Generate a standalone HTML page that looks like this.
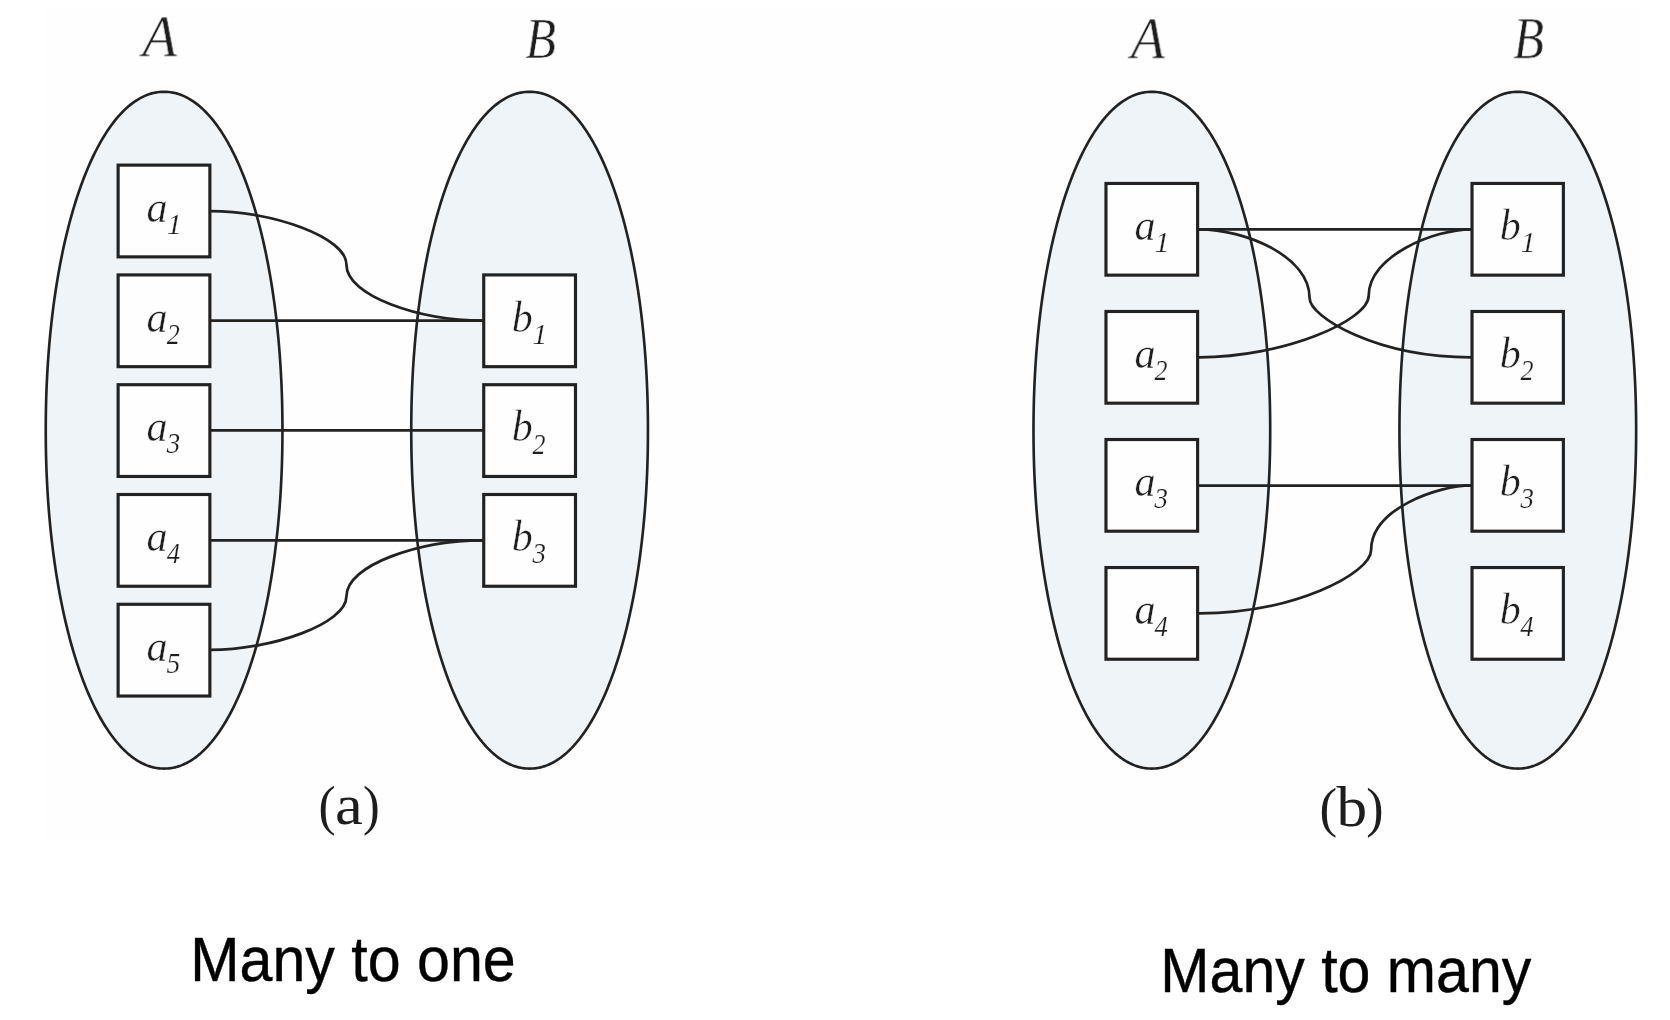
<!DOCTYPE html>
<html><head><meta charset="utf-8"><style>
html,body{margin:0;padding:0;background:#ffffff;width:1670px;height:1020px;overflow:hidden}
svg{position:absolute;left:0;top:0;display:block;will-change:transform}

</style></head><body>
<svg width="1670" height="1020" viewBox="0 0 1670 1020">
<defs><path id="se" d="M118.35 0.00 L118.33 6.46 L118.28 12.71 L118.19 18.90 L118.07 25.03 L117.91 31.12 L117.72 37.17 L117.49 43.20 L117.22 49.18 L116.92 55.14 L116.59 61.07 L116.22 66.97 L115.82 72.83 L115.38 78.66 L114.91 84.46 L114.40 90.23 L113.86 95.96 L113.29 101.65 L112.68 107.31 L112.04 112.93 L111.36 118.50 L110.66 124.04 L109.91 129.54 L109.14 134.99 L108.33 140.39 L107.49 145.75 L106.62 151.06 L105.72 156.32 L104.78 161.53 L103.82 166.69 L102.82 171.80 L101.79 176.85 L100.73 181.85 L99.64 186.79 L98.52 191.67 L97.37 196.49 L96.19 201.25 L94.99 205.94 L93.75 210.58 L92.49 215.14 L91.19 219.64 L89.87 224.08 L88.53 228.44 L87.15 232.74 L85.75 236.96 L84.33 241.12 L82.87 245.20 L81.40 249.20 L79.89 253.13 L78.37 256.98 L76.82 260.75 L75.24 264.45 L73.65 268.06 L72.03 271.60 L70.38 275.05 L68.72 278.42 L67.03 281.71 L65.33 284.91 L63.60 288.02 L61.85 291.05 L60.08 293.99 L58.30 296.85 L56.49 299.61 L54.67 302.28 L52.83 304.87 L50.97 307.36 L49.10 309.76 L47.21 312.07 L45.30 314.28 L43.38 316.40 L41.45 318.43 L39.49 320.36 L37.53 322.19 L35.55 323.93 L33.56 325.57 L31.56 327.12 L29.54 328.57 L27.51 329.92 L25.47 331.17 L23.42 332.32 L21.36 333.37 L19.29 334.32 L17.20 335.18 L15.11 335.93 L13.00 336.59 L10.88 337.14 L8.75 337.59 L6.61 337.95 L4.45 338.20 L2.26 338.35 L0.00 338.40 L-2.26 338.35 L-4.45 338.20 L-6.61 337.95 L-8.75 337.59 L-10.88 337.14 L-13.00 336.59 L-15.11 335.93 L-17.20 335.18 L-19.29 334.32 L-21.36 333.37 L-23.42 332.32 L-25.47 331.17 L-27.51 329.92 L-29.54 328.57 L-31.56 327.12 L-33.56 325.57 L-35.55 323.93 L-37.53 322.19 L-39.49 320.36 L-41.45 318.43 L-43.38 316.40 L-45.30 314.28 L-47.21 312.07 L-49.10 309.76 L-50.97 307.36 L-52.83 304.87 L-54.67 302.28 L-56.49 299.61 L-58.30 296.85 L-60.08 293.99 L-61.85 291.05 L-63.60 288.02 L-65.33 284.91 L-67.03 281.71 L-68.72 278.42 L-70.38 275.05 L-72.03 271.60 L-73.65 268.06 L-75.24 264.45 L-76.82 260.75 L-78.37 256.98 L-79.89 253.13 L-81.40 249.20 L-82.87 245.20 L-84.33 241.12 L-85.75 236.96 L-87.15 232.74 L-88.53 228.44 L-89.87 224.08 L-91.19 219.64 L-92.49 215.14 L-93.75 210.58 L-94.99 205.94 L-96.19 201.25 L-97.37 196.49 L-98.52 191.67 L-99.64 186.79 L-100.73 181.85 L-101.79 176.85 L-102.82 171.80 L-103.82 166.69 L-104.78 161.53 L-105.72 156.32 L-106.62 151.06 L-107.49 145.75 L-108.33 140.39 L-109.14 134.99 L-109.91 129.54 L-110.66 124.04 L-111.36 118.50 L-112.04 112.93 L-112.68 107.31 L-113.29 101.65 L-113.86 95.96 L-114.40 90.23 L-114.91 84.46 L-115.38 78.66 L-115.82 72.83 L-116.22 66.97 L-116.59 61.07 L-116.92 55.14 L-117.22 49.18 L-117.49 43.20 L-117.72 37.17 L-117.91 31.12 L-118.07 25.03 L-118.19 18.90 L-118.28 12.71 L-118.33 6.46 L-118.35 0.00 L-118.33 -6.46 L-118.28 -12.71 L-118.19 -18.90 L-118.07 -25.03 L-117.91 -31.12 L-117.72 -37.17 L-117.49 -43.20 L-117.22 -49.18 L-116.92 -55.14 L-116.59 -61.07 L-116.22 -66.97 L-115.82 -72.83 L-115.38 -78.66 L-114.91 -84.46 L-114.40 -90.23 L-113.86 -95.96 L-113.29 -101.65 L-112.68 -107.31 L-112.04 -112.93 L-111.36 -118.50 L-110.66 -124.04 L-109.91 -129.54 L-109.14 -134.99 L-108.33 -140.39 L-107.49 -145.75 L-106.62 -151.06 L-105.72 -156.32 L-104.78 -161.53 L-103.82 -166.69 L-102.82 -171.80 L-101.79 -176.85 L-100.73 -181.85 L-99.64 -186.79 L-98.52 -191.67 L-97.37 -196.49 L-96.19 -201.25 L-94.99 -205.94 L-93.75 -210.58 L-92.49 -215.14 L-91.19 -219.64 L-89.87 -224.08 L-88.53 -228.44 L-87.15 -232.74 L-85.75 -236.96 L-84.33 -241.12 L-82.87 -245.20 L-81.40 -249.20 L-79.89 -253.13 L-78.37 -256.98 L-76.82 -260.75 L-75.24 -264.45 L-73.65 -268.06 L-72.03 -271.60 L-70.38 -275.05 L-68.72 -278.42 L-67.03 -281.71 L-65.33 -284.91 L-63.60 -288.02 L-61.85 -291.05 L-60.08 -293.99 L-58.30 -296.85 L-56.49 -299.61 L-54.67 -302.28 L-52.83 -304.87 L-50.97 -307.36 L-49.10 -309.76 L-47.21 -312.07 L-45.30 -314.28 L-43.38 -316.40 L-41.45 -318.43 L-39.49 -320.36 L-37.53 -322.19 L-35.55 -323.93 L-33.56 -325.57 L-31.56 -327.12 L-29.54 -328.57 L-27.51 -329.92 L-25.47 -331.17 L-23.42 -332.32 L-21.36 -333.37 L-19.29 -334.32 L-17.20 -335.18 L-15.11 -335.93 L-13.00 -336.59 L-10.88 -337.14 L-8.75 -337.59 L-6.61 -337.95 L-4.45 -338.20 L-2.26 -338.35 L-0.00 -338.40 L2.26 -338.35 L4.45 -338.20 L6.61 -337.95 L8.75 -337.59 L10.88 -337.14 L13.00 -336.59 L15.11 -335.93 L17.20 -335.18 L19.29 -334.32 L21.36 -333.37 L23.42 -332.32 L25.47 -331.17 L27.51 -329.92 L29.54 -328.57 L31.56 -327.12 L33.56 -325.57 L35.55 -323.93 L37.53 -322.19 L39.49 -320.36 L41.45 -318.43 L43.38 -316.40 L45.30 -314.28 L47.21 -312.07 L49.10 -309.76 L50.97 -307.36 L52.83 -304.87 L54.67 -302.28 L56.49 -299.61 L58.30 -296.85 L60.08 -293.99 L61.85 -291.05 L63.60 -288.02 L65.33 -284.91 L67.03 -281.71 L68.72 -278.42 L70.38 -275.05 L72.03 -271.60 L73.65 -268.06 L75.24 -264.45 L76.82 -260.75 L78.37 -256.98 L79.89 -253.13 L81.40 -249.20 L82.87 -245.20 L84.33 -241.12 L85.75 -236.96 L87.15 -232.74 L88.53 -228.44 L89.87 -224.08 L91.19 -219.64 L92.49 -215.14 L93.75 -210.58 L94.99 -205.94 L96.19 -201.25 L97.37 -196.49 L98.52 -191.67 L99.64 -186.79 L100.73 -181.85 L101.79 -176.85 L102.82 -171.80 L103.82 -166.69 L104.78 -161.53 L105.72 -156.32 L106.62 -151.06 L107.49 -145.75 L108.33 -140.39 L109.14 -134.99 L109.91 -129.54 L110.66 -124.04 L111.36 -118.50 L112.04 -112.93 L112.68 -107.31 L113.29 -101.65 L113.86 -95.96 L114.40 -90.23 L114.91 -84.46 L115.38 -78.66 L115.82 -72.83 L116.22 -66.97 L116.59 -61.07 L116.92 -55.14 L117.22 -49.18 L117.49 -43.20 L117.72 -37.17 L117.91 -31.12 L118.07 -25.03 L118.19 -18.90 L118.28 -12.71 L118.33 -6.46Z"/></defs>
<rect x="44" y="7" width="1597" height="834" fill="#fefefe"/>
<use href="#se" x="164.1" y="430.2" fill="#eff4f8" stroke="#222222" stroke-width="2.65"/>
<use href="#se" x="529.6" y="430.2" fill="#eff4f8" stroke="#222222" stroke-width="2.65"/>
<path d="M210.50,211.00 C272.16,211.00 346.45,237.16 346.45,264.64 C346.45,295.77 418.69,320.60 483.00,320.60" fill="none" stroke="#222222" stroke-width="2.75"/>
<line x1="209.85" y1="320.7" x2="483.7" y2="320.7" stroke="#222222" stroke-width="2.75"/>
<line x1="209.85" y1="430.45" x2="483.7" y2="430.45" stroke="#222222" stroke-width="2.75"/>
<line x1="209.85" y1="540.4" x2="483.7" y2="540.4" stroke="#222222" stroke-width="2.75"/>
<path d="M210.50,649.90 C272.16,649.90 346.45,623.74 346.45,596.26 C346.45,565.13 418.69,540.30 483.00,540.30" fill="none" stroke="#222222" stroke-width="2.75"/>
<rect x="118.12" y="165.12" width="91.75" height="91.75" fill="#fefefe" stroke="#222222" stroke-width="3.15"/>
<rect x="118.12" y="274.92" width="91.75" height="91.75" fill="#fefefe" stroke="#222222" stroke-width="3.15"/>
<rect x="118.12" y="384.71" width="91.75" height="91.75" fill="#fefefe" stroke="#222222" stroke-width="3.15"/>
<rect x="118.12" y="494.50" width="91.75" height="91.75" fill="#fefefe" stroke="#222222" stroke-width="3.15"/>
<rect x="118.12" y="604.29" width="91.75" height="91.75" fill="#fefefe" stroke="#222222" stroke-width="3.15"/>
<rect x="483.73" y="274.92" width="91.75" height="91.75" fill="#fefefe" stroke="#222222" stroke-width="3.15"/>
<rect x="483.73" y="384.71" width="91.75" height="91.75" fill="#fefefe" stroke="#222222" stroke-width="3.15"/>
<rect x="483.73" y="494.50" width="91.75" height="91.75" fill="#fefefe" stroke="#222222" stroke-width="3.15"/>
<text transform="translate(146.61 221.87) scale(0.9358 1)" font-family="Liberation Serif" font-style="italic" font-size="45.10" fill="#1d1d1d" stroke="#fefefe" stroke-width="0.45">a</text>
<text transform="translate(166.96 234.10) scale(1.0038 1)" font-family="Liberation Serif" font-style="italic" font-size="29.47" fill="#1d1d1d" stroke="#fefefe" stroke-width="0.2">1</text>
<text transform="translate(146.61 331.66) scale(0.9358 1)" font-family="Liberation Serif" font-style="italic" font-size="45.10" fill="#1d1d1d" stroke="#fefefe" stroke-width="0.45">a</text>
<text transform="translate(166.80 343.89) scale(0.8905 1)" font-family="Liberation Serif" font-style="italic" font-size="29.24" fill="#1d1d1d" stroke="#fefefe" stroke-width="0.2">2</text>
<text transform="translate(146.61 441.45) scale(0.9358 1)" font-family="Liberation Serif" font-style="italic" font-size="45.10" fill="#1d1d1d" stroke="#fefefe" stroke-width="0.45">a</text>
<text transform="translate(166.80 453.39) scale(0.9332 1)" font-family="Liberation Serif" font-style="italic" font-size="28.81" fill="#1d1d1d" stroke="#fefefe" stroke-width="0.2">3</text>
<text transform="translate(146.61 551.24) scale(0.9358 1)" font-family="Liberation Serif" font-style="italic" font-size="45.10" fill="#1d1d1d" stroke="#fefefe" stroke-width="0.45">a</text>
<text transform="translate(166.67 563.47) scale(0.9026 1)" font-family="Liberation Serif" font-style="italic" font-size="29.47" fill="#1d1d1d" stroke="#fefefe" stroke-width="0.2">4</text>
<text transform="translate(146.61 661.03) scale(0.9358 1)" font-family="Liberation Serif" font-style="italic" font-size="45.10" fill="#1d1d1d" stroke="#fefefe" stroke-width="0.45">a</text>
<text transform="translate(166.39 672.97) scale(0.9466 1)" font-family="Liberation Serif" font-style="italic" font-size="29.02" fill="#1d1d1d" stroke="#fefefe" stroke-width="0.2">5</text>
<text transform="translate(511.70 331.66) scale(0.9313 1)" font-family="Liberation Serif" font-style="italic" font-size="45.07" fill="#1d1d1d" stroke="#fefefe" stroke-width="0.45">b</text>
<text transform="translate(532.56 343.89) scale(1.0038 1)" font-family="Liberation Serif" font-style="italic" font-size="29.47" fill="#1d1d1d" stroke="#fefefe" stroke-width="0.2">1</text>
<text transform="translate(511.70 441.45) scale(0.9313 1)" font-family="Liberation Serif" font-style="italic" font-size="45.07" fill="#1d1d1d" stroke="#fefefe" stroke-width="0.45">b</text>
<text transform="translate(532.40 453.68) scale(0.8905 1)" font-family="Liberation Serif" font-style="italic" font-size="29.24" fill="#1d1d1d" stroke="#fefefe" stroke-width="0.2">2</text>
<text transform="translate(511.70 551.24) scale(0.9313 1)" font-family="Liberation Serif" font-style="italic" font-size="45.07" fill="#1d1d1d" stroke="#fefefe" stroke-width="0.45">b</text>
<text transform="translate(532.40 563.18) scale(0.9332 1)" font-family="Liberation Serif" font-style="italic" font-size="28.81" fill="#1d1d1d" stroke="#fefefe" stroke-width="0.2">3</text>
<text transform="translate(142.24 56.20) scale(0.9776 1)" font-family="Liberation Serif" font-style="italic" font-size="58.47" fill="#1d1d1d" stroke="#fefefe" stroke-width="0.6">A</text>
<text transform="translate(525.40 57.90) scale(0.8740 1)" font-family="Liberation Serif" font-style="italic" font-size="57.40" fill="#1d1d1d" stroke="#fefefe" stroke-width="0.6">B</text>
<use href="#se" x="1151.85" y="430.2" fill="#eff4f8" stroke="#222222" stroke-width="2.65"/>
<use href="#se" x="1517.8" y="430.2" fill="#eff4f8" stroke="#222222" stroke-width="2.65"/>
<line x1="1197.65" y1="229.3" x2="1472.05" y2="229.3" stroke="#222222" stroke-width="2.75"/>
<line x1="1197.65" y1="485.5" x2="1472.05" y2="485.5" stroke="#222222" stroke-width="2.75"/>
<path d="M1199.00,229.30 C1244.75,229.30 1309.58,255.95 1309.58,297.95 C1309.58,316.95 1376.46,357.30 1471.00,357.30" fill="none" stroke="#222222" stroke-width="2.75"/>
<path d="M1199.00,357.30 C1284.13,357.30 1368.67,320.33 1368.67,295.78 C1368.67,255.68 1434.88,229.30 1471.00,229.30" fill="none" stroke="#222222" stroke-width="2.75"/>
<path d="M1199.00,613.30 C1293.68,613.30 1371.12,573.55 1371.12,549.90 C1371.12,508.42 1438.96,485.40 1471.00,485.40" fill="none" stroke="#222222" stroke-width="2.75"/>
<rect x="1105.97" y="183.45" width="91.65" height="91.7" fill="#fefefe" stroke="#222222" stroke-width="3.15"/>
<rect x="1472.03" y="183.45" width="91.35" height="91.7" fill="#fefefe" stroke="#222222" stroke-width="3.15"/>
<rect x="1105.97" y="311.48" width="91.65" height="91.7" fill="#fefefe" stroke="#222222" stroke-width="3.15"/>
<rect x="1472.03" y="311.48" width="91.35" height="91.7" fill="#fefefe" stroke="#222222" stroke-width="3.15"/>
<rect x="1105.97" y="439.51" width="91.65" height="91.7" fill="#fefefe" stroke="#222222" stroke-width="3.15"/>
<rect x="1472.03" y="439.51" width="91.35" height="91.7" fill="#fefefe" stroke="#222222" stroke-width="3.15"/>
<rect x="1105.97" y="567.54" width="91.65" height="91.7" fill="#fefefe" stroke="#222222" stroke-width="3.15"/>
<rect x="1472.03" y="567.54" width="91.35" height="91.7" fill="#fefefe" stroke="#222222" stroke-width="3.15"/>
<text transform="translate(1134.41 240.17) scale(0.9358 1)" font-family="Liberation Serif" font-style="italic" font-size="45.10" fill="#1d1d1d" stroke="#fefefe" stroke-width="0.45">a</text>
<text transform="translate(1154.76 252.40) scale(1.0038 1)" font-family="Liberation Serif" font-style="italic" font-size="29.47" fill="#1d1d1d" stroke="#fefefe" stroke-width="0.2">1</text>
<text transform="translate(1499.80 240.17) scale(0.9313 1)" font-family="Liberation Serif" font-style="italic" font-size="45.07" fill="#1d1d1d" stroke="#fefefe" stroke-width="0.45">b</text>
<text transform="translate(1520.66 252.40) scale(1.0038 1)" font-family="Liberation Serif" font-style="italic" font-size="29.47" fill="#1d1d1d" stroke="#fefefe" stroke-width="0.2">1</text>
<text transform="translate(1134.41 368.20) scale(0.9358 1)" font-family="Liberation Serif" font-style="italic" font-size="45.10" fill="#1d1d1d" stroke="#fefefe" stroke-width="0.45">a</text>
<text transform="translate(1154.60 380.43) scale(0.8905 1)" font-family="Liberation Serif" font-style="italic" font-size="29.24" fill="#1d1d1d" stroke="#fefefe" stroke-width="0.2">2</text>
<text transform="translate(1499.80 368.20) scale(0.9313 1)" font-family="Liberation Serif" font-style="italic" font-size="45.07" fill="#1d1d1d" stroke="#fefefe" stroke-width="0.45">b</text>
<text transform="translate(1520.50 380.43) scale(0.8905 1)" font-family="Liberation Serif" font-style="italic" font-size="29.24" fill="#1d1d1d" stroke="#fefefe" stroke-width="0.2">2</text>
<text transform="translate(1134.41 496.23) scale(0.9358 1)" font-family="Liberation Serif" font-style="italic" font-size="45.10" fill="#1d1d1d" stroke="#fefefe" stroke-width="0.45">a</text>
<text transform="translate(1154.60 508.17) scale(0.9332 1)" font-family="Liberation Serif" font-style="italic" font-size="28.81" fill="#1d1d1d" stroke="#fefefe" stroke-width="0.2">3</text>
<text transform="translate(1499.80 496.23) scale(0.9313 1)" font-family="Liberation Serif" font-style="italic" font-size="45.07" fill="#1d1d1d" stroke="#fefefe" stroke-width="0.45">b</text>
<text transform="translate(1520.50 508.17) scale(0.9332 1)" font-family="Liberation Serif" font-style="italic" font-size="28.81" fill="#1d1d1d" stroke="#fefefe" stroke-width="0.2">3</text>
<text transform="translate(1134.41 624.26) scale(0.9358 1)" font-family="Liberation Serif" font-style="italic" font-size="45.10" fill="#1d1d1d" stroke="#fefefe" stroke-width="0.45">a</text>
<text transform="translate(1154.47 636.49) scale(0.9026 1)" font-family="Liberation Serif" font-style="italic" font-size="29.47" fill="#1d1d1d" stroke="#fefefe" stroke-width="0.2">4</text>
<text transform="translate(1499.80 624.26) scale(0.9313 1)" font-family="Liberation Serif" font-style="italic" font-size="45.07" fill="#1d1d1d" stroke="#fefefe" stroke-width="0.45">b</text>
<text transform="translate(1520.37 636.49) scale(0.9026 1)" font-family="Liberation Serif" font-style="italic" font-size="29.47" fill="#1d1d1d" stroke="#fefefe" stroke-width="0.2">4</text>
<text transform="translate(1130.69 58.20) scale(0.9573 1)" font-family="Liberation Serif" font-style="italic" font-size="58.78" fill="#1d1d1d" stroke="#fefefe" stroke-width="0.6">A</text>
<text transform="translate(1513.30 58.20) scale(0.8603 1)" font-family="Liberation Serif" font-style="italic" font-size="58.32" fill="#1d1d1d" stroke="#fefefe" stroke-width="0.6">B</text>
<text transform="translate(318.49 824.19) scale(0.9185 1)" font-family="Liberation Serif" font-style="normal" font-size="55.78" fill="#1d1d1d">(</text>
<text transform="translate(335.11 823.94) scale(1.1125 1)" font-family="Liberation Serif" font-style="normal" font-size="56.21" fill="#1d1d1d">a</text>
<text transform="translate(363.03 824.19) scale(0.9008 1)" font-family="Liberation Serif" font-style="normal" font-size="55.78" fill="#1d1d1d">)</text>
<text transform="translate(1319.62 825.86) scale(0.9549 1)" font-family="Liberation Serif" font-style="normal" font-size="55.44" fill="#1d1d1d">(</text>
<text transform="translate(1336.50 825.53) scale(1.0837 1)" font-family="Liberation Serif" font-style="normal" font-size="56.57" fill="#1d1d1d">b</text>
<text transform="translate(1366.14 825.86) scale(0.9365 1)" font-family="Liberation Serif" font-style="normal" font-size="55.44" fill="#1d1d1d">)</text>
<text transform="translate(190.34 980.90) scale(1 1.0514)" font-family="Liberation Sans" font-size="59.13" fill="#000" stroke="#000" stroke-width="0.4">Many to one</text>
<text transform="translate(1160.34 991.90) scale(1 1.0531)" font-family="Liberation Sans" font-size="59.08" fill="#000" stroke="#000" stroke-width="0.4">Many to many</text>
</svg>
</body></html>
